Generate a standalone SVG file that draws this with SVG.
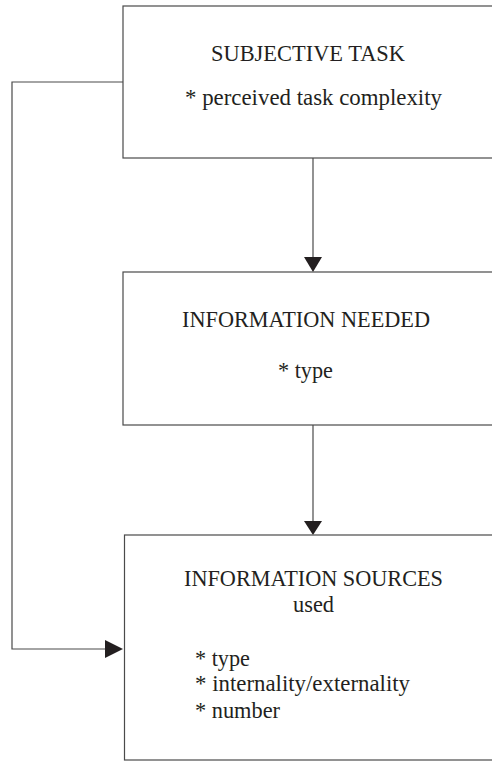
<svg xmlns="http://www.w3.org/2000/svg" width="492" height="762" viewBox="0 0 492 762">
  <style>
    .box { fill: #fff; stroke: #4a4a4a; stroke-width: 1.2; }
    .wire { fill: none; stroke: #4a4a4a; stroke-width: 1.2; }
    .head { fill: #231f20; }
    text { font-family: "Liberation Serif", "Times New Roman", serif; font-size: 22.5px; fill: #231f20; }
  </style>
  <rect width="492" height="762" fill="#fff"/>

  <g id="connectors">
    <line class="wire" x1="313" y1="158" x2="313" y2="258"/>
    <path class="head" d="M304,257 L322,257 L313,272 Z"/>
    <line class="wire" x1="313" y1="425" x2="313" y2="522"/>
    <path class="head" d="M304,521 L322,521 L313,535 Z"/>
    <polyline class="wire" points="123,82 12,82 12,649 106,649"/>
    <path class="head" d="M105,640 L123,649 L105,658 Z"/>
  </g>

  <g id="subjective-task">
    <rect class="box" x="123" y="6" width="380" height="152"/>
    <text x="211" y="61" textLength="194" lengthAdjust="spacingAndGlyphs">SUBJECTIVE TASK</text>
    <text x="185" y="105" textLength="257" lengthAdjust="spacingAndGlyphs">* perceived task complexity</text>
  </g>

  <g id="information-needed">
    <rect class="box" x="123" y="272" width="380" height="153"/>
    <text x="182" y="327" textLength="248" lengthAdjust="spacingAndGlyphs">INFORMATION NEEDED</text>
    <text x="278" y="378" textLength="55" lengthAdjust="spacingAndGlyphs">* type</text>
  </g>

  <g id="information-sources">
    <rect class="box" x="124.5" y="535" width="380" height="225"/>
    <text x="184" y="586" textLength="259" lengthAdjust="spacingAndGlyphs">INFORMATION SOURCES</text>
    <text x="293" y="612" textLength="41" lengthAdjust="spacingAndGlyphs">used</text>
    <text x="195" y="666" textLength="55" lengthAdjust="spacingAndGlyphs">* type</text>
    <text x="195" y="691" textLength="215" lengthAdjust="spacingAndGlyphs">* internality/externality</text>
    <text x="195" y="718" textLength="85" lengthAdjust="spacingAndGlyphs">* number</text>
  </g>
</svg>
